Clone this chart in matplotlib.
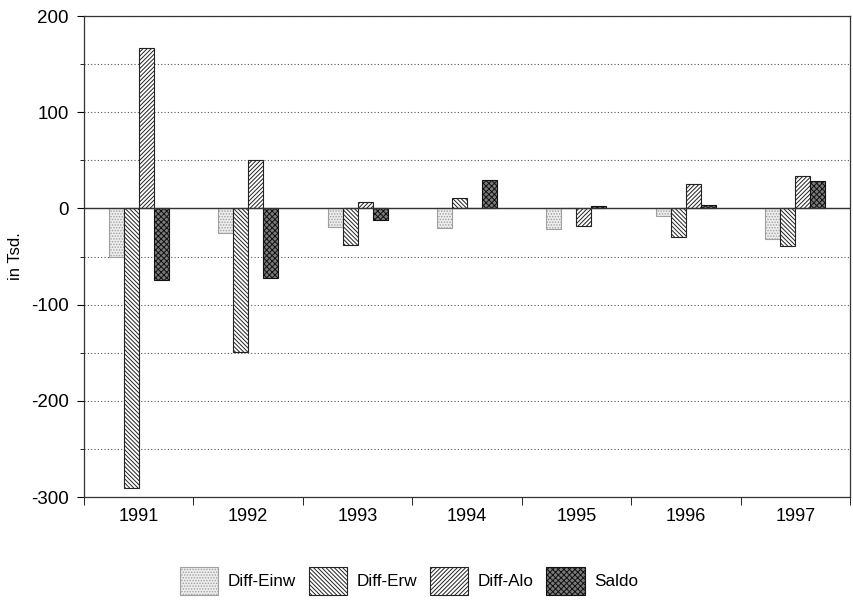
import matplotlib
matplotlib.use("Agg")
import matplotlib.pyplot as plt
import numpy as np

plt.rcParams['font.family'] = ['Liberation Sans', 'DejaVu Sans']
plt.rcParams['hatch.linewidth'] = 0.7
plt.rcParams['axes.unicode_minus'] = False

years = ['1991', '1992', '1993', '1994', '1995', '1996', '1997']
diff_einw = [-50, -26, -19, -20, -21, -8, -32]
diff_erw = [-291, -149, -38, 11, 0, -30, -39]
diff_alo = [167, 50, 7, 0, -18, 25, 34]
saldo = [-74, -72, -12, 30, 2, 4, 28]

series = [
    ('Diff-Einw', diff_einw, dict(facecolor='#ededed', hatch='......', edgecolor='#a0a0a0')),
    ('Diff-Erw', diff_erw, dict(facecolor='white', hatch='\\\\\\\\\\\\\\\\', edgecolor='#222222')),
    ('Diff-Alo', diff_alo, dict(facecolor='white', hatch='////////', edgecolor='#222222')),
    ('Saldo', saldo, dict(facecolor='#7a7a7a', hatch='xxxxxx', edgecolor='#111111')),
]

fig = plt.figure(figsize=(8.54, 6.01), dpi=100)
ax = fig.add_axes([84/854, 1-497/601, (850-84)/854, (497-16)/601])

x = np.arange(len(years))
w = 0.137
handles = []
for i, (name, vals, st) in enumerate(series):
    b = ax.bar(x + (i - 1.5) * w, vals, w, linewidth=0.8, label=name, **st)
    handles.append(b)

ax.set_xlim(-0.5, len(years) - 0.5)
ax.set_ylim(-300, 200)
ax.set_yticks([-300, -200, -100, 0, 100, 200])
ax.set_yticks(np.arange(-300, 201, 50), minor=True)
ax.yaxis.grid(True, which='both', linestyle=(0, (1, 2)), color='#555555', linewidth=0.8)
ax.set_axisbelow(True)
ax.axhline(0, color='#333333', linewidth=1.0)
ax.set_xticks(x)
ax.set_xticklabels(years, fontsize=13)
ax.set_xticks(np.arange(-0.5, len(years), 1), minor=True)
ax.tick_params(axis='x', which='major', length=0, pad=8)
ax.tick_params(axis='x', which='minor', length=6, direction='out')
ax.tick_params(axis='y', which='major', labelsize=13.5, length=5, direction='out', pad=6)
ax.tick_params(axis='y', which='minor', length=3, direction='out')
for s in ax.spines.values():
    s.set_linewidth(0.9)
    s.set_color('#333333')
ax.set_ylabel('in Tsd.', fontsize=12)
ax.yaxis.set_label_coords(-0.080, 0.5)

leg = fig.legend(handles=handles, labels=[s[0] for s in series], loc='center',
                 ncol=4, frameon=False,
                 fontsize=12.3, handlelength=2.25, handleheight=2.2, columnspacing=0.75,
                 handletextpad=0.55)
leg.set_bbox_to_anchor((0.479, 1 - 581/601), transform=fig.transFigure)

fig.savefig('out.png', dpi=100)
